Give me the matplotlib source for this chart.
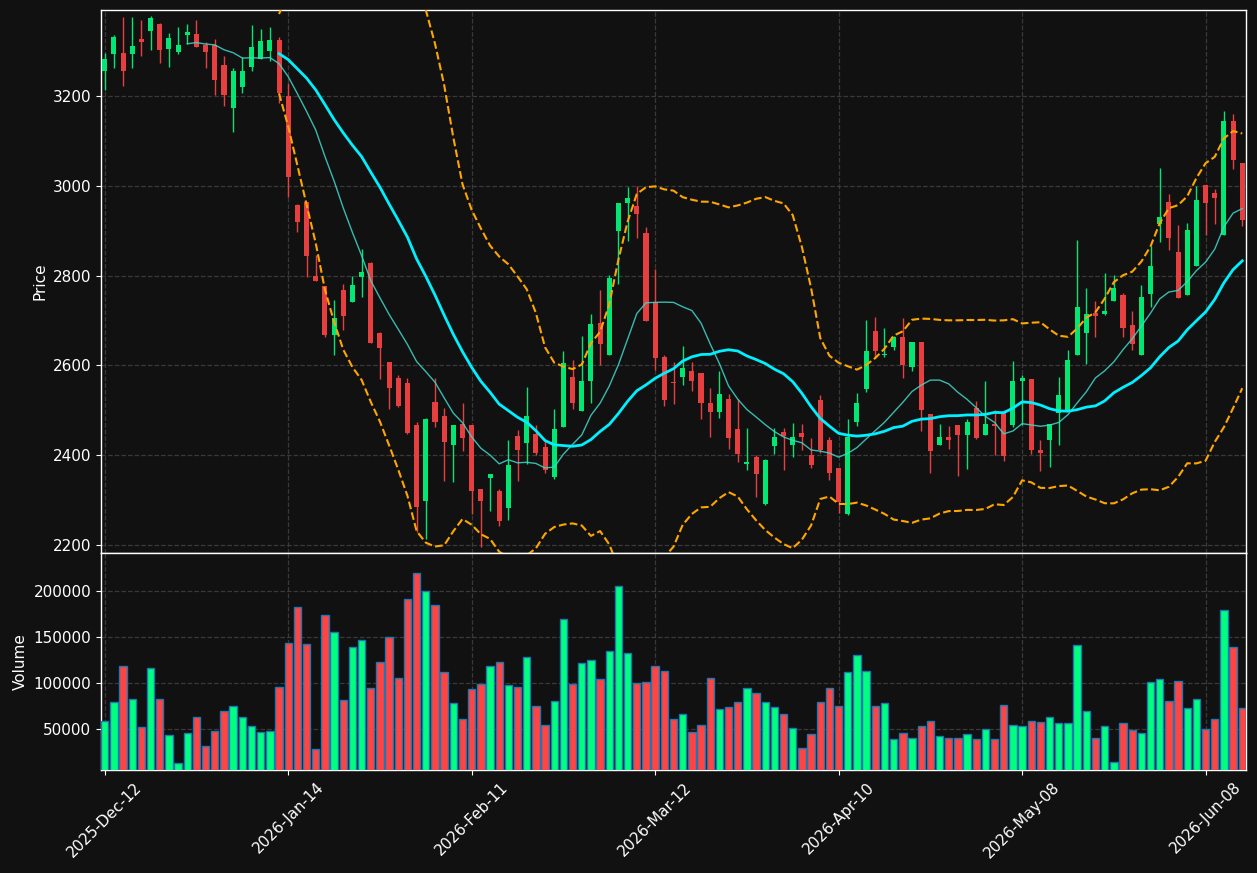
import numpy as np
import pandas as pd
import matplotlib
matplotlib.use("Agg")
import matplotlib.pyplot as plt

# ---------------- data ----------------
opens = [3257, 3295, 3297, 3295, 3328, 3346, 3361, 3306, 3299, 3337,
         3339, 3314, 3314, 3270, 3174, 3221, 3265, 3283, 3301, 3325,
         3201, 2958, 2964, 2800, 2777, 2667, 2768, 2741, 2798, 2829,
         2673, 2608, 2571, 2561, 2468, 2297, 2519, 2488, 2422, 2470,
         2468, 2325, 2348, 2321, 2281, 2443, 2426, 2448, 2419, 2350,
         2462, 2573, 2498, 2566, 2695, 2624, 2899, 2961, 2955, 2895,
         2741, 2619, 2563, 2573, 2587, 2583, 2515, 2495, 2526, 2457,
         2381, 2396, 2291, 2420, 2452, 2423, 2450, 2400, 2523, 2433,
         2372, 2268, 2474, 2548, 2677, 2622, 2640, 2663, 2597, 2653,
         2491, 2422, 2441, 2466, 2444, 2504, 2444, 2470, 2496, 2466,
         2564, 2570, 2412, 2433, 2494, 2501, 2624, 2673, 2717, 2714,
         2743, 2757, 2691, 2624, 2758, 2914, 2965, 2853, 2756, 2821,
         3003, 2984, 2891, 3145, 3051]

highs = [3296, 3336, 3376, 3376, 3370, 3378, 3362, 3340, 3354, 3360,
         3370, 3321, 3327, 3290, 3263, 3288, 3358, 3349, 3354, 3332,
         3230, 2960, 2964, 2847, 2777, 2745, 2782, 2799, 2860, 2831,
         2674, 2608, 2579, 2571, 2474, 2483, 2571, 2505, 2468, 2515,
         2468, 2325, 2357, 2325, 2434, 2455, 2552, 2468, 2431, 2503,
         2631, 2612, 2665, 2714, 2769, 2801, 2962, 2998, 2999, 2909,
         2815, 2624, 2607, 2643, 2607, 2583, 2550, 2587, 2537, 2525,
         2461, 2400, 2392, 2460, 2460, 2472, 2470, 2439, 2534, 2441,
         2372, 2480, 2538, 2701, 2708, 2683, 2665, 2705, 2653, 2653,
         2491, 2470, 2464, 2466, 2480, 2521, 2565, 2500, 2501, 2609,
         2579, 2570, 2433, 2470, 2574, 2634, 2879, 2772, 2744, 2805,
         2801, 2761, 2721, 2778, 2867, 3039, 2982, 2913, 2918, 3000,
         3003, 2992, 3166, 3161, 3051]

lows = [3214, 3263, 3222, 3263, 3290, 3304, 3274, 3265, 3294, 3316,
        3310, 3262, 3202, 3177, 3121, 3206, 3255, 3283, 3278, 3184,
        2976, 2897, 2796, 2787, 2663, 2622, 2679, 2741, 2752, 2649,
        2570, 2503, 2507, 2447, 2229, 2213, 2462, 2342, 2339, 2410,
        2268, 2194, 2276, 2242, 2255, 2342, 2381, 2400, 2359, 2346,
        2462, 2503, 2498, 2517, 2600, 2624, 2782, 2877, 2883, 2698,
        2589, 2509, 2513, 2556, 2542, 2480, 2441, 2482, 2413, 2385,
        2367, 2307, 2289, 2402, 2367, 2395, 2412, 2371, 2404, 2344,
        2271, 2266, 2465, 2540, 2616, 2618, 2634, 2571, 2587, 2453,
        2360, 2422, 2414, 2353, 2369, 2435, 2444, 2400, 2387, 2462,
        2467, 2402, 2365, 2373, 2422, 2501, 2624, 2603, 2663, 2712,
        2743, 2663, 2634, 2624, 2729, 2875, 2858, 2749, 2756, 2821,
        2891, 2914, 2891, 3037, 2910]

closes = [3283, 3332, 3255, 3312, 3321, 3374, 3304, 3330, 3314, 3343,
          3310, 3299, 3237, 3203, 3255, 3255, 3310, 3324, 3325, 3208,
          3020, 2919, 2843, 2787, 2667, 2706, 2709, 2779, 2809, 2649,
          2638, 2549, 2510, 2450, 2285, 2481, 2474, 2430, 2468, 2437,
          2321, 2297, 2357, 2254, 2377, 2412, 2486, 2404, 2367, 2459,
          2606, 2517, 2566, 2693, 2647, 2795, 2962, 2973, 2937, 2698,
          2616, 2522, 2560, 2595, 2564, 2515, 2497, 2537, 2437, 2403,
          2385, 2357, 2388, 2441, 2443, 2441, 2441, 2377, 2412, 2359,
          2295, 2441, 2517, 2632, 2631, 2626, 2663, 2600, 2653, 2500,
          2408, 2441, 2433, 2444, 2474, 2439, 2470, 2464, 2399, 2565,
          2571, 2412, 2404, 2470, 2533, 2613, 2730, 2714, 2709, 2721,
          2772, 2683, 2647, 2753, 2822, 2931, 2883, 2749, 2902, 2969,
          2961, 2974, 3145, 3057, 2924]

volumes = [58700, 79550, 118970, 82835, 52175, 116780, 82835, 43415, 12755, 45605,
           63125, 31370, 47795, 69695, 75170, 63125, 53270, 46700, 47795, 95975,
           143060, 182480, 141965, 28085, 173720, 155105, 81740, 138680, 146345, 94880,
           123350, 149630, 105830, 191240, 219710, 200000, 184670, 112400, 78455, 60935,
           93785, 99260, 118970, 123350, 98165, 95975, 127730, 75170, 54365, 80645,
           169340, 99260, 122255, 125540, 104735, 134300, 205475, 132110, 100355, 101450,
           118970, 113495, 60935, 66410, 46700, 54365, 105830, 71885, 74075, 79550,
           94880, 89405, 79550, 74075, 66410, 51080, 29180, 44510, 79550, 94880,
           75170, 112400, 129920, 113495, 75170, 78455, 39035, 45605, 40130, 53270,
           58745, 42320, 40130, 40130, 44510, 39035, 49985, 39035, 76265, 54365,
           53270, 58745, 57650, 63125, 56555, 56555, 140870, 69695, 40130, 53270,
           13850, 56555, 48890, 45605, 101450, 104735, 80645, 102545, 72980, 82835,
           49985, 60935, 179195, 138680, 72980]

tick_labels = ["2025-Dec-12", "2026-Jan-14", "2026-Feb-11", "2026-Mar-12",
               "2026-Apr-10", "2026-May-08", "2026-Jun-08"]
tick_positions = [0, 20, 40, 60, 80, 100, 120]

# ---------------- style ----------------
BG = "#111111"
UP_C, DN_C = "#02e774", "#e73f3f"
UP_V, DN_V = "#00ff7f", "#ff4444"
GRID_C = "#444444"

o = np.array(opens, float)
h = np.array(highs, float)
l = np.array(lows, float)
c = np.array(closes, float)
v = np.array(volumes, float)
x = np.arange(len(c))
up = c >= o

s = pd.Series(c)
sma20 = s.rolling(20).mean()
sma10 = s.rolling(10).mean()
std20 = s.rolling(20).std(ddof=0)
upper = sma20 + 2 * std20
lower = sma20 - 2 * std20

fig = plt.figure(figsize=(12.57, 8.73), dpi=100, facecolor=BG)
gs = fig.add_gridspec(2, 1, height_ratios=[5, 2], hspace=0,
                      left=0.0804, right=0.9912, top=0.9885, bottom=0.118)
ax = fig.add_subplot(gs[0])
axv = fig.add_subplot(gs[1], sharex=ax)

for a in (ax, axv):
    a.set_facecolor(BG)
    for sp in a.spines.values():
        sp.set_color("white")
        sp.set_linewidth(1.0)
    a.tick_params(colors="white", labelsize=11)
    a.grid(True, color=GRID_C, linestyle="--", linewidth=0.9, alpha=0.8)
    a.set_axisbelow(True)

# candles
cols = np.where(up, UP_C, DN_C)
ax.vlines(x, l, h, colors=cols, linewidth=1.0, zorder=2)
body_bottom = np.minimum(o, c)
body_h = np.maximum(np.abs(c - o), 2.0)
ax.bar(x, body_h, bottom=body_bottom, width=0.55, color=cols, linewidth=0, zorder=3)

# indicators
ax.plot(x, sma10, color="#40d8cc", linewidth=1.0, alpha=0.85, zorder=4)
ax.plot(x, sma20, color="#00f0ff", linewidth=2.0, zorder=4)
ax.plot(x, upper, color="#ffa500", linewidth=1.5, linestyle="--", zorder=4)
ax.plot(x, lower, color="#ffa500", linewidth=1.5, linestyle="--", zorder=4)

ax.set_ylim(2182, 3392)
ax.set_yticks([2200, 2400, 2600, 2800, 3000, 3200])
ax.set_ylabel("Price", color="white", fontsize=11)
ax.tick_params(axis="x", labelbottom=False)

# volume
vcols = np.where(up, UP_V, DN_V)
axv.bar(x, v, width=0.8, color=vcols, edgecolor="#1f77b4", linewidth=1.0, zorder=3)
axv.set_ylim(5400, 241500)
axv.set_yticks([50000, 100000, 150000, 200000])
axv.set_ylabel("Volume", color="white", fontsize=11)

axv.set_xlim(-0.4, len(c) - 0.6)
axv.set_xticks(tick_positions)
axv.set_xticklabels(tick_labels, rotation=45, fontsize=11)

fig.savefig("out.png", dpi=100, facecolor=BG)
